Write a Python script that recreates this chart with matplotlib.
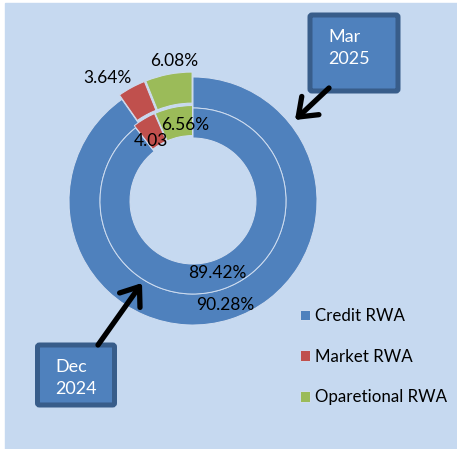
import matplotlib.pyplot as plt
from matplotlib.patches import Rectangle, FancyBboxPatch

plt.rcParams['font.family'] = ['Lato', 'DejaVu Sans']

# RWA composition (%), Dec 2024 vs Mar 2025
categories = ['Credit RWA', 'Market RWA', 'Oparetional RWA']
dec_2024 = [89.42, 4.03, 6.56]
mar_2025 = [90.28, 3.64, 6.08]
colors = ['#4F81BD', '#C0504D', '#9BBB59']

W, H = 457, 449
fig = plt.figure(figsize=(W / 100, H / 100), dpi=100)
fig.patch.set_facecolor('white')
ax = fig.add_axes([0, 0, 1, 1])

# panel background
ax.add_patch(Rectangle((5, 3), W - 5, H - 3, color='#C6D9F0', zorder=0))

cx, cy = 193, 201
edge = dict(edgecolor='#CFDDF0', linewidth=0.7)

# outer ring = Mar 2025, inner ring = Dec 2024 (explode is in data units here)
outer, _ = ax.pie(mar_2025, colors=colors, radius=124, center=(cx, cy),
                  startangle=270, counterclock=True, explode=[0, 5, 5],
                  wedgeprops=dict(width=31, **edge))
inner, _ = ax.pie(dec_2024, colors=colors, radius=93, center=(cx, cy),
                  startangle=270, counterclock=True, explode=[0, 2.5, 2.5],
                  wedgeprops=dict(width=30, **edge))

ax.set_xlim(0, W)
ax.set_ylim(H, 0)
ax.axis('off')

# data labels
mar_labels = [f'{v:.2f}%' for v in mar_2025]
dec_labels = [f'{v:.2f}%' for v in dec_2024]
dec_labels[1] = f'{dec_2024[1]:.2f}'
lab = dict(fontsize=12.5, color='black', ha='center', va='center')
ax.text(225, 305, mar_labels[0], **lab)
ax.text(107, 78, mar_labels[1], **lab)
ax.text(174, 61, mar_labels[2], **lab)
ax.text(217, 273, dec_labels[0], **lab)
ax.text(151, 141, dec_labels[1], **lab)
ax.text(185, 125, dec_labels[2], **lab)

# legend
ax.legend(outer, categories, loc='upper left',
          bbox_to_anchor=(300 / W, 1 - 308 / H), frameon=False,
          fontsize=12.2, handlelength=0.6, handleheight=0.6,
          handletextpad=0.3, labelspacing=1.45, borderpad=0, borderaxespad=0)

# period call-outs
box = dict(boxstyle='round,pad=0,rounding_size=2', fc='#4F81BD', ec='#385D8A', lw=3.6)
ax.add_patch(FancyBboxPatch((310, 15), 88, 76, **box, zorder=3))
ax.add_patch(FancyBboxPatch((37.5, 345), 77, 60, **box, zorder=3))
txt = dict(fontsize=13, color='white', ha='left', va='center', zorder=4)
ax.text(328, 37.5, 'Mar', **txt)
ax.text(328, 59.5, '2025', **txt)
ax.text(55, 366.5, 'Dec', **txt)
ax.text(55, 389, '2024', **txt)

arrow = dict(arrowstyle='->,head_length=0.6,head_width=0.45', lw=3.8,
             color='black', mutation_scale=20, shrinkA=0, shrinkB=0)
ax.annotate('', xy=(295, 120), xytext=(329, 88), arrowprops=arrow, zorder=5)
ax.annotate('', xy=(142, 283), xytext=(98, 345), arrowprops=arrow, zorder=5)

fig.savefig('out.png', dpi=100)
